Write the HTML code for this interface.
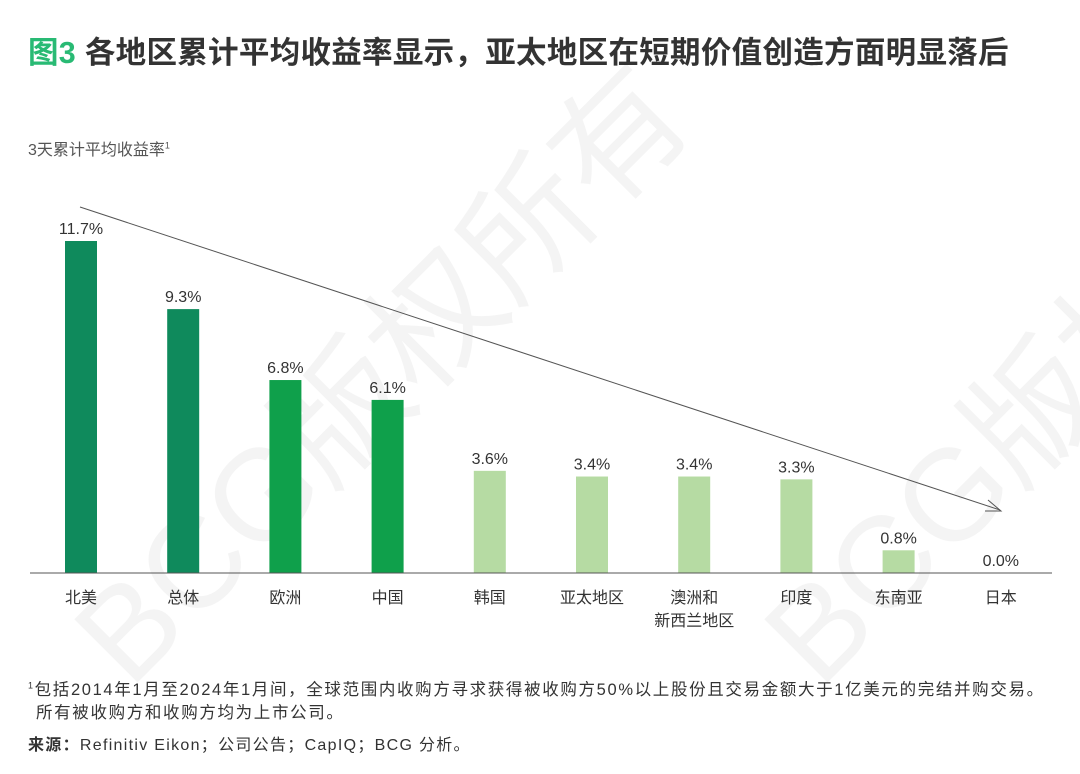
<!DOCTYPE html>
<html><head><meta charset="utf-8">
<style>
body{margin:0;width:1080px;height:774px;background:#fff;font-family:"Liberation Sans","Noto Sans CJK SC",sans-serif;overflow:hidden;position:relative}
.t{position:absolute;white-space:nowrap}
</style></head><body>
<div class="t" style="left:28px;top:28px;font-size:30.5px;font-weight:bold;color:#333;letter-spacing:0.3px"><span style="color:#29ba74">图3</span> 各地区累计平均收益率显示，亚太地区在短期价值创造方面明显落后</div>
<div class="t" style="left:28px;top:136px;font-size:16px;color:#555">3天累计平均收益率<sup style="font-size:9px">1</sup></div>
<svg id="chart" width="1080" height="774" style="position:absolute;left:0;top:0">
<g id="wm" opacity="0.05" font-size="130" fill="#444" font-family="Liberation Sans, Noto Sans CJK SC, sans-serif">
<text transform="translate(130,690) rotate(-45)">BCG版权所有</text>
<text transform="translate(820,690) rotate(-45)">BCG版权所有</text>
</g>
<g id="bars"></g>
<line x1="30" y1="573" x2="1052" y2="573" stroke="#555" stroke-width="1"/>
<line x1="80" y1="207" x2="1000" y2="510" stroke="#555" stroke-width="1"/>
<path d="M988,500 L1001,511 L985,511" fill="none" stroke="#555" stroke-width="1"/>
</svg>
<div class="t" style="left:28px;top:676px;font-size:16.5px;color:#333;letter-spacing:1.65px"><sup style="font-size:9px">1</sup>包括2014年1月至2024年1月间，全球范围内收购方寻求获得被收购方50%以上股份且交易金额大于1亿美元的完结并购交易。</div>
<div class="t" style="left:36px;top:699px;font-size:16.5px;color:#333;letter-spacing:1.65px">所有被收购方和收购方均为上市公司。</div>
<div class="t" style="left:28px;top:731px;font-size:16px;color:#333;letter-spacing:1.3px"><b>来源：</b>Refinitiv Eikon；公司公告；CapIQ；BCG 分析。</div>
<script>
const categories=["北美","总体","欧洲","中国","韩国","亚太地区","澳洲和\n新西兰地区","印度","东南亚","日本"];
const values=[11.7,9.3,6.8,6.1,3.6,3.4,3.4,3.3,0.8,0.0];
const groups=[0,0,1,1,2,2,2,2,2,2];
const colors=["#0f8a5c","#0fa04b","#b6dba3"];
const base=573,scale=332/11.7,x0=81,step=102.2,bw=32;
const ns="http://www.w3.org/2000/svg";
const g=document.getElementById("bars");
function xs(i){return x0+i*step;}
function ys(v){return base-v*scale;}
categories.forEach((c,i)=>{
  const v=values[i];
  const r=document.createElementNS(ns,"rect");
  
  
  r.setAttribute("x",xs(i)-bw/2);r.setAttribute("y",ys(v));
  r.setAttribute("width",bw);r.setAttribute("height",Math.max(base-ys(v),0));
  r.setAttribute("fill",colors[groups[i]]);g.appendChild(r);
  const t=document.createElementNS(ns,"text");
  
  
  t.setAttribute("x",xs(i));t.setAttribute("y",ys(v)-7);
  t.setAttribute("text-anchor","middle");t.setAttribute("font-size","16");t.setAttribute("fill","#333");
  t.textContent=v.toFixed(1)+"%";g.appendChild(t);
  c.split("\n").forEach((ln,j)=>{
    const l=document.createElementNS(ns,"text");
    
    
    l.setAttribute("x",xs(i));l.setAttribute("y",603+j*23);
    l.setAttribute("text-anchor","middle");l.setAttribute("font-size","16");l.setAttribute("fill","#333");
    l.textContent=ln;g.appendChild(l);
  });
});
</script>
</body></html>
